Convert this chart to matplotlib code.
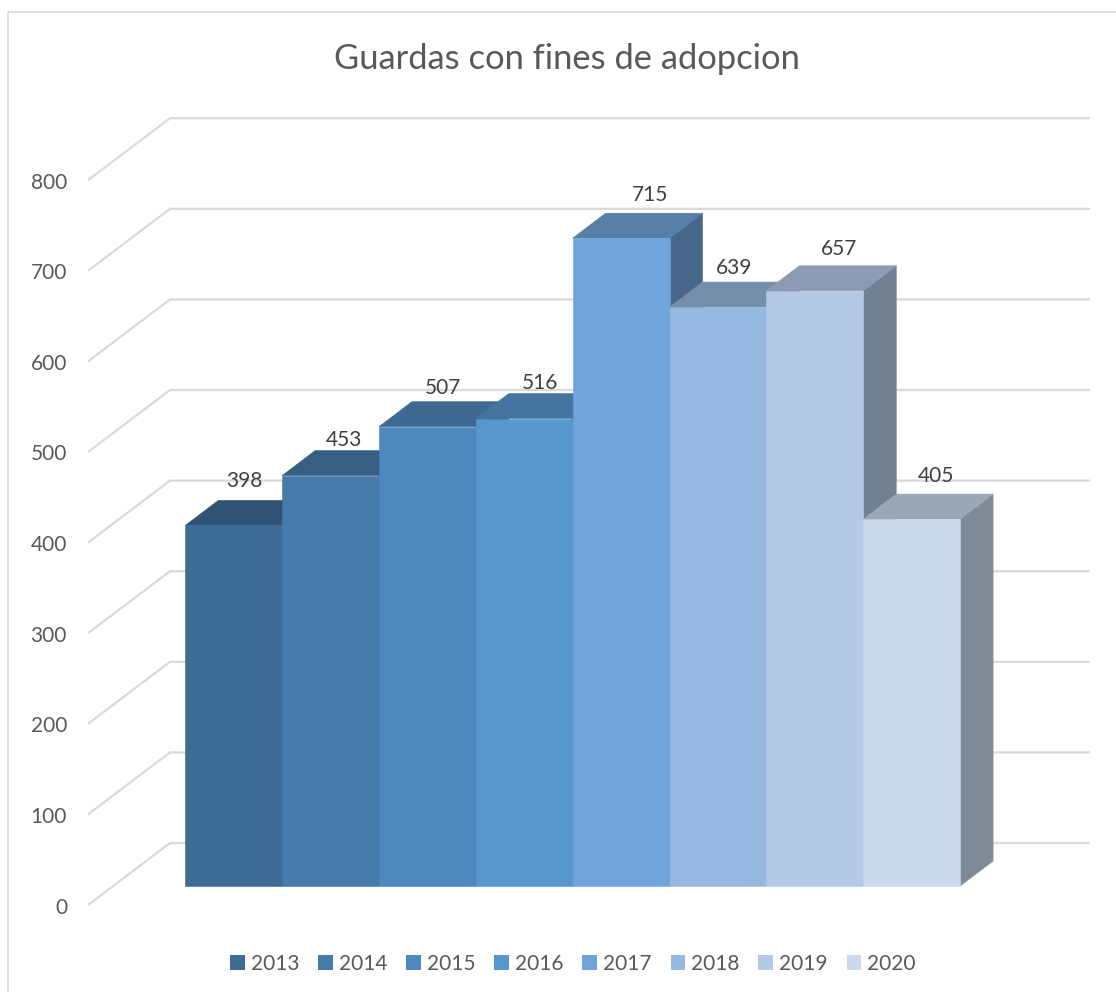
import matplotlib
matplotlib.use("Agg")
import matplotlib.pyplot as plt
from matplotlib.colors import to_rgb
from matplotlib.lines import Line2D
from matplotlib.patches import Patch

years = ["2013", "2014", "2015", "2016", "2017", "2018", "2019", "2020"]
values = [398, 453, 507, 516, 715, 639, 657, 405]
y_ticks = [0, 100, 200, 300, 400, 500, 600, 700, 800]
colors = ["#3E6C96", "#477BAC", "#4F88BF", "#5896CE", "#70A4DA", "#97B8E0", "#B4C9E8", "#CAD9EC"]

# pixel scale of the front plane
PX_X = 96.85
PX_Y = 0.906
W, H = 1116, 992
X0 = 185.3

# 3d depth, in data units
DEPTH_X = 33 / PX_X
DEPTH_Y = 25 / PX_Y

# label offsets from the back top edge of each bar (pixels)
label_dx = [11, 13, 16, 16, 29, 16, 24, 24]
label_dy = [19, 11, 14, 11, 18, 14, 17, 18]

GREY = "#595959"
GRID = "#D9D9D9"

plt.rcParams["font.family"] = ["Lato", "DejaVu Sans"]


def shade(color, k):
    return tuple(c * k for c in to_rgb(color))


fig = plt.figure(figsize=(W / 100, H / 100), dpi=100)
ax = fig.add_axes([0, 0, 1, 1])
ax.set_xlim(-X0 / PX_X, (W - X0) / PX_X)
ax.set_ylim(-(H - 886) / PX_Y, 886 / PX_Y)
ax.axis("off")

# walls and gridlines
wall_x = [(88 - X0) / PX_X, (170 - X0) / PX_X, (1090 - X0) / PX_X]
wall_front = -19 / PX_Y
wall_back = 43 / PX_Y
for t in y_ticks:
    ax.plot(wall_x, [t + wall_front, t + wall_back, t + wall_back],
            color=GRID, lw=1.6, zorder=1, solid_capstyle="butt")
    ax.text((67 - X0) / PX_X, t + wall_front - 2.5 / PX_Y, str(t), ha="right", va="center",
            fontsize=15, color=GREY)

# bars, left to right so each one overlaps the side of the previous one
for i, (v, c) in enumerate(zip(values, colors)):
    z = 2 + i
    side = shade(c, 0.635)
    top = shade(c, 0.77)
    ax.fill([i + 1, i + 1 + DEPTH_X, i + 1 + DEPTH_X, i + 1],
            [0, DEPTH_Y, v + DEPTH_Y, v],
            fc=side, ec=side, lw=0.4, zorder=z)
    ax.fill([i, i + DEPTH_X, i + 1 + DEPTH_X, i + 1],
            [v, v + DEPTH_Y, v + DEPTH_Y, v],
            fc=top, ec=top, lw=0.4, zorder=z)
    ax.bar(i, v, width=1, align="edge", color=c, ec=c, lw=0.4, zorder=z)

for i, v in enumerate(values):
    ax.annotate(str(v), (i + 0.5, v + DEPTH_Y), xytext=(label_dx[i], label_dy[i]),
                textcoords="offset pixels", ha="center", va="center",
                fontsize=15, color="#404040", zorder=20)

fig.text(567 / W, 1 - 59 / H, "Guardas con fines de adopcion", ha="center", va="center",
         fontsize=24.8, color=GREY)

handles = [Patch(fc=c, lw=0, label=y) for c, y in zip(colors, years)]
fig.legend(handles=handles, loc="center", bbox_to_anchor=(573 / W, 1 - 964 / H), ncols=8,
           frameon=False, fontsize=15, labelcolor=GREY, handlelength=0.7, handleheight=0.7,
           handletextpad=0.3, columnspacing=0.9)

# chart frame, cropped at right and bottom
fig.add_artist(Line2D([8 / W, 8 / W, 1], [0, 1 - 12 / H, 1 - 12 / H], color=GRID, lw=1.2))

fig.savefig("out.png", dpi=100)
